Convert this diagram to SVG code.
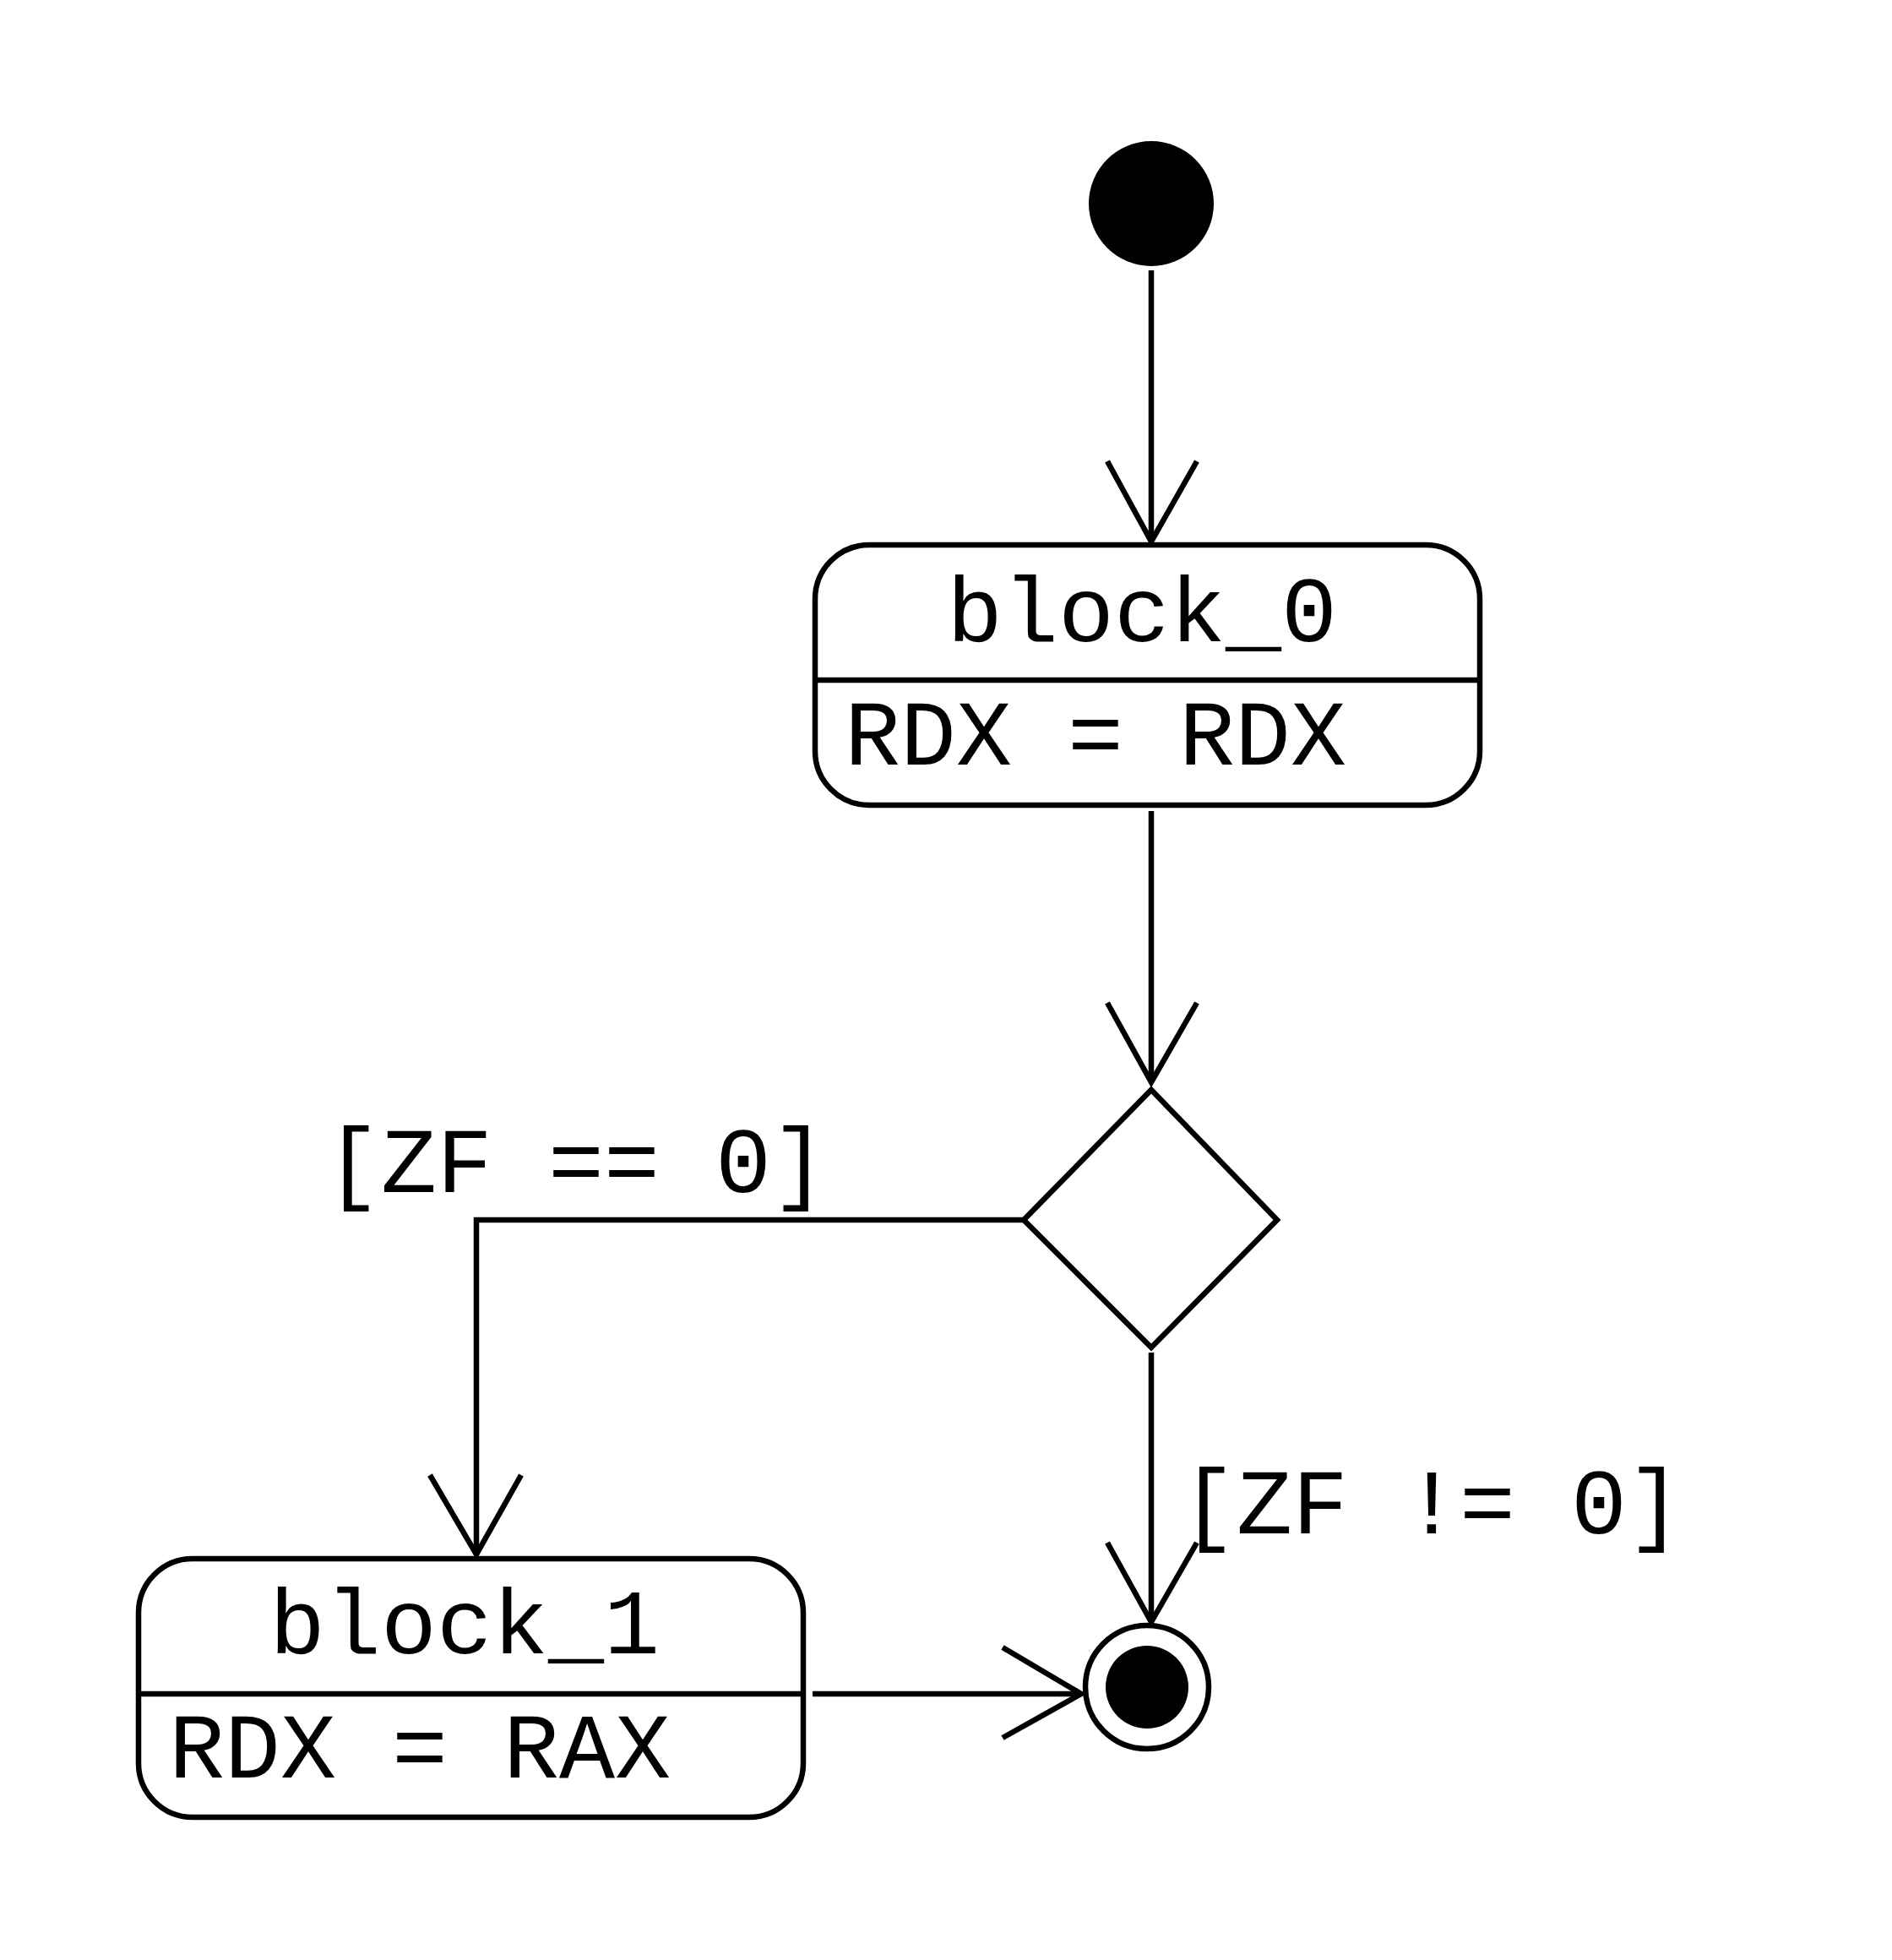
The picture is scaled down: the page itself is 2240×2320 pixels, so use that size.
<svg xmlns="http://www.w3.org/2000/svg" width="2240" height="2320" viewBox="0 0 2240 2320">
<style>
.s{fill:none;stroke:#000;stroke-width:6.5;stroke-linejoin:miter;stroke-linecap:butt}
.b{fill:#fff;stroke:#000;stroke-width:6.5}
.t{font-family:"Liberation Mono","Courier New",monospace;font-size:110px;fill:#000}
</style>
<rect width="2240" height="2320" fill="#fff"/>
<g id="start"><circle cx="1363" cy="241" r="74" fill="#000"/></g>
<g id="block_0">
<rect class="b" x="965" y="645" width="787" height="308" rx="64" ry="64"/>
<line class="s" x1="965" y1="805" x2="1752" y2="805"/>
<text class="t" x="1352" y="759" text-anchor="middle">block_0</text>
<text class="t" x="1000" y="905">RDX = RDX</text>
</g>
<g id="decision"><polygon class="b" points="1363,1290 1512,1444 1363,1595 1212,1444"/></g>
<g id="block_1">
<rect class="b" x="164" y="1845" width="787" height="306" rx="64" ry="64"/>
<line class="s" x1="164" y1="2005" x2="951" y2="2005"/>
<text class="t" x="550" y="1957" text-anchor="middle">block_1</text>
<text class="t" x="200" y="2104">RDX = RAX</text>
</g>
<g id="end">
<circle class="b" cx="1358" cy="1997" r="73"/>
<circle cx="1358" cy="1997" r="49" fill="#000"/>
</g>
<g id="connectors">
<line class="s" x1="1363" y1="320" x2="1363" y2="641"/>
<polyline class="s" points="1311,546 1363,641 1417,546"/>
<line class="s" x1="1363" y1="960" x2="1363" y2="1281"/>
<polyline class="s" points="1311,1187 1363,1281 1417,1187"/>
<polyline class="s" points="1212,1444 564,1444 564,1840"/>
<polyline class="s" points="509,1746 564,1840 617,1746"/>
<line class="s" x1="1363" y1="1601" x2="1363" y2="1920"/>
<polyline class="s" points="1311,1826 1363,1920 1417,1826"/>
<line class="s" x1="962" y1="2005" x2="1280" y2="2005"/>
<polyline class="s" points="1187,1950 1280,2005 1187,2057"/>
<text class="t" x="385" y="1411">[ZF == 0]</text>
<text class="t" x="1398" y="1815">[ZF != 0]</text>
</g>
</svg>
